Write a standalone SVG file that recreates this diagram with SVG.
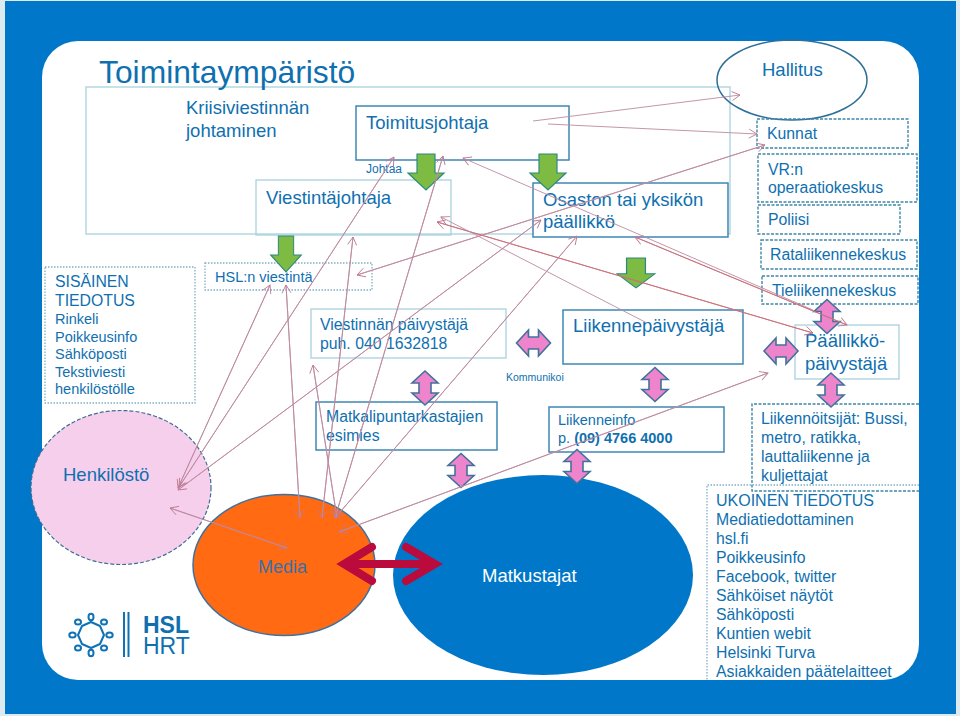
<svg xmlns="http://www.w3.org/2000/svg" width="960" height="716" viewBox="0 0 960 716">
<style>
text{font-family:"Liberation Sans",Arial,sans-serif;fill:#0f70b0}
.s{font-size:15.800px}
.n{font-size:14.500px}
.l{font-size:18.500px}
.b{fill:#fff;stroke:#3f86b4;stroke-width:1.5}
.p{fill:none;stroke:#a9d2de;stroke-width:1.3}
.d{fill:none;stroke:#3f86a8;stroke-width:1.4;stroke-dasharray:3 1.5}
.o{fill:none;stroke:#7fb0c4;stroke-width:1.3;stroke-dasharray:1.5 1.5}
.c line{stroke:#bd8aa0;stroke-width:.9;fill:none;marker-end:url(#h)}
.g{fill:#7dbb42;stroke:#2d8a80;stroke-width:1.2}
.k{fill:#ee85cc;stroke:#41719c;stroke-width:1.6}
</style>
<defs>
<marker id="h" markerUnits="userSpaceOnUse" markerWidth="18" markerHeight="18" refX="16" refY="9" orient="auto"><path d="M8 4.500L16 9L8 13.500" fill="none" stroke="#bd7a94" stroke-width=".9"/></marker>
<path id="v" d="M0 -17L13 -5H6V5H13L0 17L-13 5H-6V-5H-13Z"/>
<path id="gd" d="M-9 0H9V19H18L0 36L-18 19H-9Z"/>
</defs>
<rect width="960" height="716" fill="#dcebf2"/>
<rect x="5" y="1" width="951" height="713" fill="#0077c8"/>
<rect x="42" y="41" width="877" height="639" rx="36" fill="#fff"/>
<g id="frame"><rect class="p" x="86" y="87" width="644" height="147"/></g>
<g id="title"><text x="99" y="83" font-size="31.800">Toimintaympäristö</text></g>
<g id="kriisi"><text x="186" y="114" class="l">Kriisiviestinnän</text><text x="186" y="137" class="l">johtaminen</text></g>
<g id="toimitusjohtaja"><rect class="b" x="356" y="106" width="213" height="54"/><text x="366" y="129" class="l">Toimitusjohtaja</text></g>
<g id="johtaa"><text x="366" y="173" font-size="12">Johtaa</text></g>
<g id="viestintajohtaja"><rect class="p" x="256" y="180" width="195" height="55"/><text x="266" y="204" class="l">Viestintäjohtaja</text></g>
<g id="osasto"><rect class="b" x="533" y="183" width="195" height="54"/><text x="543" y="206" class="l">Osaston tai yksikön</text><text x="543" y="228" class="l">päällikkö</text></g>
<g id="hallitus"><ellipse cx="792" cy="80" rx="75" ry="40" fill="none" stroke="#2d6f98" stroke-width="1.500"/><text x="762" y="76" class="l">Hallitus</text></g>
<g id="kunnat"><rect class="d" x="757" y="119" width="151" height="29"/><text x="767" y="139" class="s">Kunnat</text></g>
<g id="vr"><rect class="d" x="758" y="154" width="159" height="48"/><text x="768" y="175" class="s">VR:n</text><text x="768" y="193" class="s">operaatiokeskus</text></g>
<g id="poliisi"><rect class="d" x="758" y="205" width="142" height="29"/><text x="768" y="225" class="s">Poliisi</text></g>
<g id="rata"><rect class="d" x="761" y="240" width="156" height="29"/><text x="770" y="260" class="s">Rataliikennekeskus</text></g>
<g id="tie"><rect class="d" x="762" y="276" width="156" height="28"/><text x="772" y="296" class="s">Tieliikennekeskus</text></g>
<g id="paallikko"><rect class="p" x="795" y="325" width="104" height="54"/><text x="805" y="347" class="l">Päällikkö-</text><text x="805" y="370" class="l">päivystäjä</text></g>
<g id="liikennepaivystaja"><rect class="b" x="563" y="310" width="180" height="54"/><text x="573" y="332" class="l">Liikennepäivystäjä</text></g>
<g id="kommunikoi"><text x="506" y="381" font-size="10.500">Kommunikoi</text></g>
<g id="liikenneinfo"><rect class="b" x="549" y="407" width="175" height="45"/><text x="558" y="425" class="n">Liikenneinfo</text><text x="558" y="443" class="n">p. <tspan font-weight="bold">(09) 4766 4000</tspan></text></g>
<g id="liikennoitsijat"><path class="d" d="M919 404H752V491H919"/><text x="761" y="424" class="s">Liikennöitsijät: Bussi,</text><text x="761" y="443" class="s">metro, ratikka,</text><text x="761" y="462" class="s">lauttaliikenne ja</text><text x="761" y="481" class="s">kuljettajat</text></g>
<g id="ulkoinen"><path class="o" d="M919 485H707V680"/><text x="716" y="506" class="s" style="font-size:16px">UKOINEN TIEDOTUS</text><text x="716" y="525" class="s">Mediatiedottaminen</text><text x="716" y="544" class="s">hsl.fi</text><text x="716" y="563" class="s">Poikkeusinfo</text><text x="716" y="582" class="s">Facebook, twitter</text><text x="716" y="601" class="s">Sähköiset näytöt</text><text x="716" y="620" class="s">Sähköposti</text><text x="716" y="639" class="s">Kuntien webit</text><text x="716" y="658" class="s">Helsinki Turva</text><text x="716" y="677" class="s">Asiakkaiden päätelaitteet</text></g>
<g id="matkalipun"><rect class="b" x="316" y="402" width="181" height="48"/><text x="326" y="422" class="s">Matkalipuntarkastajien</text><text x="326" y="441" class="s">esimies</text></g>
<g id="viestinnan"><rect class="p" x="311" y="309" width="195" height="49"/><text x="320" y="330" class="s">Viestinnän päivystäjä</text><text x="320" y="349" class="s">puh. 040 1632818</text></g>
<g id="hsl"><rect class="o" x="205" y="263" width="167" height="27"/><text x="215" y="282" class="n">HSL:n viestintä</text></g>
<g id="sisainen"><rect class="o" x="45" y="267" width="150" height="136"/><text x="55" y="287" class="s">SISÄINEN</text><text x="55" y="306" class="s">TIEDOTUS</text><text x="55" y="324" class="n">Rinkeli</text><text x="55" y="342" class="n">Poikkeusinfo</text><text x="55" y="359" class="n">Sähköposti</text><text x="55" y="377" class="n">Tekstiviesti</text><text x="55" y="394" class="n">henkilöstölle</text></g>
<g id="henkilosto"><ellipse cx="121" cy="487.500" rx="90" ry="77" fill="#f6cfec" stroke="#3e6f92" stroke-width="1.200" stroke-dasharray="4 2"/><text x="63" y="481" class="l">Henkilöstö</text></g>
<g id="media"><ellipse cx="284" cy="565" rx="91" ry="70.500" fill="#ff6a13" stroke="#41719c" stroke-width="1.500"/><text x="258" y="573" font-size="18" style="fill:#3a70a8">Media</text></g>
<g id="matkustajat"><ellipse cx="543" cy="575" rx="150" ry="100" fill="#0077c8"/><text x="482" y="582" class="l" style="fill:#fff">Matkustajat</text></g>
<g id="green-arrows"><use href="#gd" class="g" x="426" y="154"/><use href="#gd" class="g" x="548" y="154"/><use href="#gd" class="g" transform="translate(286 236) scale(.85 1)"/><use href="#gd" class="g" transform="translate(636 258) scale(1.05 .83)"/></g>
<g id="pink-arrows"><use href="#v" class="k" x="425" y="388"/><use href="#v" class="k" x="461" y="470.500"/><use href="#v" class="k" x="655" y="384.500"/><use href="#v" class="k" x="827" y="316.500"/><use href="#v" class="k" x="831" y="390"/><use href="#v" class="k" x="577" y="466.500"/><use href="#v" class="k" transform="translate(533.500 343) rotate(90)"/><use href="#v" class="k" transform="translate(781 351) rotate(90)"/></g>
<g id="connectors" class="c">
<line x1="533" y1="121" x2="740" y2="95"/>
<line x1="548" y1="124" x2="757" y2="134"/>
<line x1="357" y1="275" x2="765" y2="145"/>
<line x1="765" y1="145" x2="357" y2="275"/>
<line x1="813" y1="310" x2="463" y2="158"/>
<line x1="635" y1="237" x2="847" y2="325" style="stroke:#c9707c"/>
<line x1="847" y1="325" x2="635" y2="237" style="stroke:#c9707c"/>
<line x1="437" y1="222" x2="813" y2="333" style="stroke:#c9707c"/>
<line x1="813" y1="333" x2="437" y2="222" style="stroke:#c9707c"/>
<line x1="647" y1="323" x2="441" y2="217"/>
<line x1="270" y1="285" x2="178" y2="488"/>
<line x1="178" y1="488" x2="270" y2="285"/>
<line x1="394" y1="157" x2="179" y2="487"/>
<line x1="179" y1="487" x2="394" y2="157"/>
<line x1="541" y1="220" x2="178" y2="490"/>
<line x1="178" y1="490" x2="541" y2="220"/>
<line x1="577" y1="236" x2="335" y2="518"/>
<line x1="335" y1="518" x2="577" y2="236"/>
<line x1="443" y1="156" x2="335" y2="518"/>
<line x1="335" y1="518" x2="443" y2="156"/>
<line x1="353" y1="237" x2="322" y2="518"/>
<line x1="322" y1="518" x2="353" y2="237"/>
<line x1="313" y1="365" x2="337" y2="518"/>
<line x1="337" y1="518" x2="313" y2="365"/>
<line x1="286" y1="285" x2="300" y2="518"/>
<line x1="300" y1="518" x2="286" y2="285"/>
<line x1="170" y1="508" x2="287" y2="548"/>
<line x1="287" y1="548" x2="170" y2="508"/>
<line x1="339" y1="532" x2="768" y2="373"/>
<line x1="768" y1="373" x2="339" y2="532"/>
</g>
<g id="red-arrow" fill="none" stroke="#bb0a3c"><path d="M345 564H435" stroke-width="8"/><path d="M372 547L344 564L372 581M406 547L435 564L406 581" stroke-width="8" stroke-linecap="round" stroke-linejoin="miter"/></g>
<g id="logo" fill="none" stroke="#0f72b5" stroke-width="2"><path d="M91 622L100 626L104 635L100 644L91 648L82 644L78 635L82 626Z" stroke-linejoin="round"/><ellipse cx="91" cy="617" rx="2.500" ry="3.200"/><ellipse cx="91" cy="653" rx="2.500" ry="3.200"/><ellipse cx="72.500" cy="635" rx="3.200" ry="2.500"/><ellipse cx="109.500" cy="635" rx="3.200" ry="2.500"/><ellipse cx="78" cy="622" rx="3" ry="2.500"/><ellipse cx="104" cy="622" rx="3" ry="2.500"/><ellipse cx="78" cy="648" rx="3" ry="2.500"/><ellipse cx="104" cy="648" rx="3" ry="2.500"/><path d="M124 612V657M128.500 612V657"/><text x="143" y="633" font-size="23" font-weight="bold" stroke="none">HSL</text><text x="143" y="654" font-size="23" stroke="none">HRT</text></g>
</svg>
